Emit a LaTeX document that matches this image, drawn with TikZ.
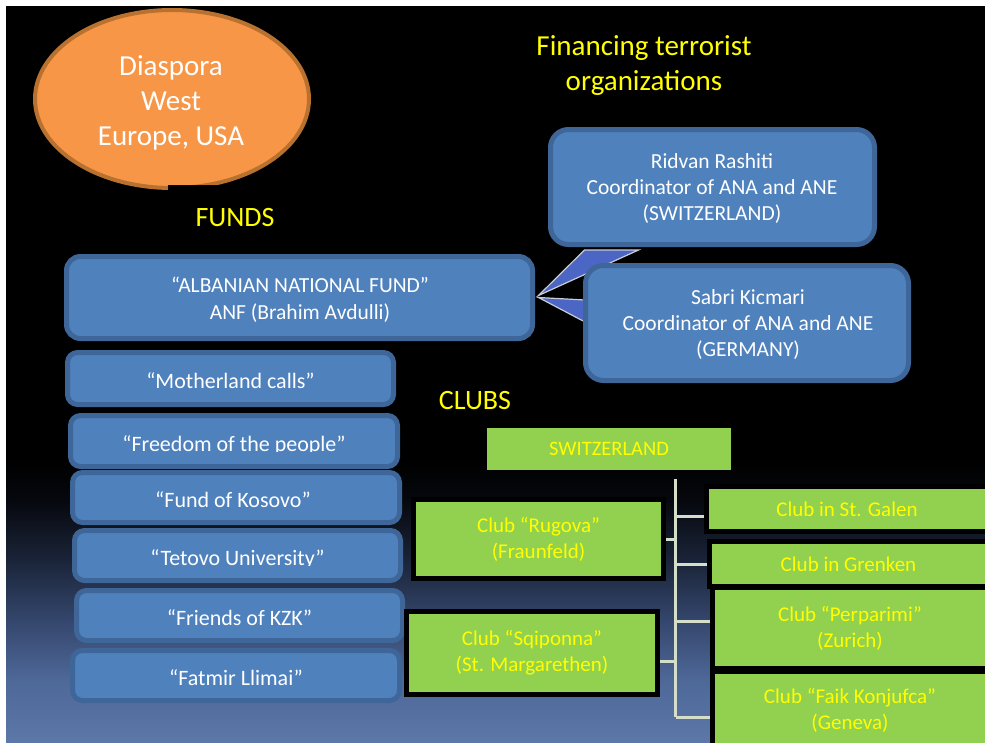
\documentclass[tikz,border=0pt]{standalone}
\usepackage{fontspec}
\setmainfont{Carlito}
\usetikzlibrary{calc,shapes.geometric}
\definecolor{boxblue}{HTML}{4F81BD}
\definecolor{blueedge}{HTML}{3E6698}
\definecolor{boxgreen}{HTML}{92D050}
\definecolor{txtyellow}{HTML}{FFFF00}
\definecolor{orangefill}{HTML}{F79646}
\definecolor{orangeedge}{HTML}{B8712F}
\definecolor{wedgefill}{HTML}{4C66C6}
\definecolor{wedgeedge}{HTML}{C8CCD8}
\definecolor{treecol}{HTML}{D4DEC8}
\definecolor{bgA}{HTML}{5C78A8}
\definecolor{bgB}{HTML}{4E6898}
\definecolor{bgC}{HTML}{34466C}
\definecolor{bgD}{HTML}{1A2438}
\definecolor{bgE}{HTML}{06080E}
\pgfdeclareverticalshading{bgshade}{100bp}{color(0bp)=(bgA); color(25bp)=(bgA); color(29.2bp)=(bgB); color(33.3bp)=(bgC); color(37.4bp)=(bgD); color(41.4bp)=(bgE); color(44.2bp)=(black); color(100bp)=(black)}
\pgfdeclarelayer{back}
\pgfdeclarelayer{mid}
\pgfsetlayers{back,mid,main}
\begin{document}
\begin{tikzpicture}[x=1pt,y=-1pt,
  bluebox/.style={draw=blueedge, line width=5pt, fill=boxblue, inner sep=0pt, text=white, align=center},
  bigbox/.style={bluebox, rounded corners=18pt, font=\fontsize{21.5}{26}\selectfont},
  itembox/.style={bluebox, rounded corners=10pt},
  itemtext/.style={text=white, inner sep=0pt, anchor=base, font=\fontsize{22}{26}\selectfont},
  greenbox/.style={draw=black, line width=5pt, fill=boxgreen, text=txtyellow, inner sep=0pt, align=center, font=\fontsize{21}{26}\selectfont},
  heading/.style={text=txtyellow, inner sep=0pt, align=center, font=\fontsize{29}{35}\selectfont},
  wedge/.style={fill=wedgefill, draw=wedgeedge, line width=1.2pt, line join=miter},
  treeline/.style={draw=treecol, line width=3pt}]
\useasboundingbox (0,0) rectangle (985,742);
\begin{pgfonlayer}{back}
  \fill[white] (0,0) rectangle (985,742);
  \shade[shading=bgshade] (6,6) rectangle (985,742);
\end{pgfonlayer}
\clip (0,0) rectangle (985,742);

% Diaspora ellipse and headings
\node[ellipse, draw=orangeedge, line width=4pt, fill=orangefill, minimum width=274pt, minimum height=178pt, inner sep=0pt] (diaspora) at (172,99) {};
\node[text=white, align=center, inner sep=0pt, font=\fontsize{29}{35}\selectfont] (diasporaT) at (171,103) {Diaspora\\West\\Europe, USA};
\node[heading, fill=black, minimum width=134pt, minimum height=66pt, font=\fontsize{28}{35}\selectfont] (funds) at (235,218) {FUNDS};
\node[heading] (title) at (644,66) {Financing terrorist\\organizations};
\node[heading, font=\fontsize{28}{35}\selectfont] (clubs) at (475,401) {CLUBS};

% Funds
\node[bluebox, rounded corners=14pt, font=\fontsize{21.5}{27}\selectfont, minimum width=466pt, minimum height=82pt] (anf) at (299.5,297.5) {};
\node[text=white, align=center, inner sep=0pt, font=\fontsize{21.5}{27}\selectfont] (anfT) at (300,300) {“ALBANIAN NATIONAL FUND”\\ANF (Brahim Avdulli)};
\node[bigbox, minimum width=324pt, minimum height=115pt] (ridvan) at (712.5,187) {};
\node[text=white, align=center, inner sep=0pt, font=\fontsize{21.5}{26}\selectfont] (ridvanT) at (712,189) {Ridvan Rashiti\\Coordinator of ANA and ANE\\(SWITZERLAND)};
\node[bigbox, minimum width=323pt, minimum height=115pt] (sabri) at (747,323) {};
\node[text=white, align=center, inner sep=0pt, font=\fontsize{21.5}{26}\selectfont] (sabriT) at (748,325) {Sabri Kicmari\\Coordinator of ANA and ANE\\(GERMANY)};

\node[itembox, minimum width=326pt, minimum height=52pt] (mother) at (230.5,378.5) {};
\node[itemtext] (motherT) at (230.5,388) {“Motherland calls”};
\node[itembox, minimum width=327pt, minimum height=51pt] (freedom) at (234,441) {};
\begin{scope}
  \clip (60,413) rectangle (410,451.5);
  \node[itemtext] (freedomT) at (234,451) {“Freedom of the people”};
\end{scope}
\node[itembox, minimum width=327pt, minimum height=50pt] (kosovo) at (236,497.5) {};
\node[itemtext] (kosovoT) at (233,507) {“Fund of Kosovo”};
\node[itembox, minimum width=326pt, minimum height=50pt] (tetovo) at (237.5,555.5) {};
\begin{scope}
  \clip (60,528) rectangle (410,565.5);
  \node[itemtext] (tetovoT) at (237.5,565) {“Tetovo University”};
\end{scope}
\node[itembox, minimum width=326pt, minimum height=50pt] (kzk) at (239.5,615.5) {};
\node[itemtext] (kzkT) at (239.5,625) {“Friends of KZK”};
\node[itembox, minimum width=327pt, minimum height=50pt] (fatmir) at (236,675.5) {};
\begin{scope}
  \clip (60,648) rectangle (410,685.5);
  \node[itemtext] (fatmirT) at (236,685) {“Fatmir Llimai”};
\end{scope}

% Wedge connectors
\begin{pgfonlayer}{mid}
  \draw[wedge] ($(anf.east)+(3.5,-2)$) -- ($(ridvan.south west)+(36.5,3)$) -- ($(ridvan.south west)+(90.5,3)$) -- cycle;
  \draw[wedge] ($(anf.east)+(3.5,0)$) -- ($(sabri.west)+(2,-23)$) -- ($(sabri.west)+(2,-1)$) -- cycle;
\end{pgfonlayer}

% Clubs
\node[greenbox, draw=none, minimum width=244pt, minimum height=42pt, font=\fontsize{20.5}{24}\selectfont] (switz) at (609,449) {SWITZERLAND};
\node[greenbox, minimum width=250pt, minimum height=79pt] (rugova) at (538.5,539) {Club “Rugova”\\(Fraunfeld)};
\node[greenbox, minimum width=251pt, minimum height=83pt] (sqiponna) at (532,653) {Club “Sqiponna”\\(St. Margarethen)};
\node[greenbox, minimum width=281pt, minimum height=45pt] (galen) at (847,509) {Club in St. Galen};
\node[greenbox, minimum width=278pt, minimum height=45pt] (grenken) at (848.5,564) {Club in Grenken};
\node[greenbox, minimum width=275pt, minimum height=81pt] (perparimi) at (850,628) {Club “Perparimi”\\(Zurich)};
\node[greenbox, minimum width=275pt, minimum height=77pt] (faik) at (850,710) {Club “Faik Konjufca”\\(Geneva)};

\coordinate (trunktop) at ($(switz.south east)+(-58,6)$);
\coordinate (trunkbot) at (trunktop |- faik.west);
\begin{pgfonlayer}{mid}
  \draw[treeline] (trunktop) -- ($(trunkbot)+(0,7)$);
  \draw[treeline] ($(trunktop |- galen.west)+(0,7)$) -- ($(galen.west)+(0,7)$);
  \draw[treeline] ($(trunktop |- grenken.west)+(0,0)$) -- ($(grenken.west)+(0,0)$);
  \draw[treeline] ($(trunktop |- perparimi.west)+(0,-7)$) -- ($(perparimi.west)+(0,-7)$);
  \draw[treeline] ($(trunktop |- faik.west)+(0,7)$) -- ($(faik.west)+(0,7)$);
  \draw[treeline] ($(trunktop |- rugova.east)+(0,0)$) -- ($(rugova.east)+(0,0)$);
  \draw[treeline] ($(trunktop |- sqiponna.east)+(0,8)$) -- ($(sqiponna.east)+(0,8)$);
\end{pgfonlayer}
\end{tikzpicture}
\end{document}
